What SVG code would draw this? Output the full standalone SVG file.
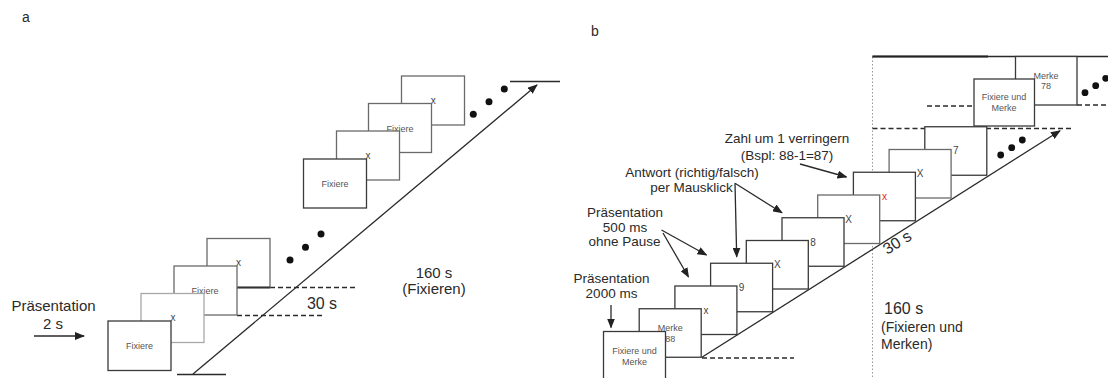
<svg xmlns="http://www.w3.org/2000/svg" width="1108" height="378" viewBox="0 0 1108 378">
<style>
.t{font-family:"Liberation Sans",Arial,sans-serif;fill:#2a2a2a}
.a15{font-size:15px}
.b14{font-size:13.5px}
.bx{fill:#fff;stroke-width:1.3}
.dk{stroke:#3a3a3a}
.md{stroke:#6a6a6a}
.lt{stroke:#a8a8a8}
.lbl{font-family:"Liberation Sans",Arial,sans-serif;font-size:9px;fill:#555;text-anchor:middle}
.xl{font-family:"Liberation Sans",Arial,sans-serif;font-size:10px;fill:#444;text-anchor:middle}
.ln{stroke:#2a2a2a;stroke-width:1.3;fill:none}
.dash{stroke:#2a2a2a;stroke-width:1.3;stroke-dasharray:5 3;fill:none}
.dot{fill:#111}
</style>
<defs>
<marker id="ah" markerUnits="userSpaceOnUse" markerWidth="10" markerHeight="8" refX="9" refY="4" orient="auto">
<path d="M0,0 L10,4 L0,8 z" fill="#222"/>
</marker>
</defs>
<rect width="1108" height="378" fill="#fff"/>

<!-- panel labels -->
<text class="t" x="22" y="22" font-size="14">a</text>
<text class="t" x="591" y="36" font-size="14">b</text>

<!-- ===== Panel a ===== -->
<g id="a-texts">
<text class="t a15" x="53.5" y="311" text-anchor="middle">Präsentation</text>
<text class="t a15" x="53" y="329" text-anchor="middle">2 s</text>
<text class="t a15" x="434" y="278" text-anchor="middle">160 s</text>
<text class="t a15" x="434" y="294" text-anchor="middle">(Fixieren)</text>
<text class="t" x="322" y="309" font-size="16" text-anchor="middle">30 s</text>
</g>

<g id="a-connectors">
<line class="ln" x1="34" y1="336" x2="84" y2="336" marker-end="url(#ah)"/>
<line class="ln" x1="193" y1="374" x2="537" y2="85" marker-end="url(#ah)"/>
<line class="ln" x1="177" y1="374.5" x2="226" y2="374.5"/>
<line class="ln" x1="510" y1="81.5" x2="560" y2="81.5"/>
<line class="dash" x1="270" y1="287.5" x2="358" y2="287.5"/>
<line class="dash" x1="237" y1="315.5" x2="325" y2="315.5"/>
</g>

<g id="a-dots">
<circle class="dot" cx="290" cy="260" r="3.5"/>
<circle class="dot" cx="305.5" cy="247.3" r="3.5"/>
<circle class="dot" cx="321" cy="234" r="3.5"/>
<circle class="dot" cx="473.3" cy="114.3" r="3.5"/>
<circle class="dot" cx="489" cy="101.7" r="3.5"/>
<circle class="dot" cx="504.3" cy="89" r="3.5"/>
</g>

<g id="a-box8"><rect class="bx md" x="401.5" y="76" width="63" height="49"/><text class="xl" x="433.3" y="104">x</text></g>
<g id="a-box7"><rect class="bx md" x="368.5" y="103.5" width="63" height="49"/><text class="lbl" x="400" y="131.5">Fixiere</text></g>
<g id="a-box6"><rect class="bx md" x="336.5" y="131" width="63" height="49"/><text class="xl" x="368" y="159">x</text></g>
<g id="a-box5"><rect class="bx dk" x="303.5" y="159" width="63" height="49"/><text class="lbl" x="335" y="187">Fixiere</text></g>

<g id="a-box4"><rect class="bx md" x="207" y="238.5" width="63" height="49"/><text class="xl" x="238.5" y="266">x</text>
<line x1="236" y1="287.5" x2="270" y2="287.5" stroke="#333" stroke-width="2"/></g>
<g id="a-box3"><rect class="bx md" x="174" y="266" width="63" height="49"/><text class="lbl" x="205" y="294">Fixiere</text></g>
<g id="a-box2"><rect class="bx lt" x="141" y="293.5" width="63" height="49"/><text class="xl" x="173" y="320.5">x</text></g>
<g id="a-box1"><rect class="bx dk" x="108" y="321" width="63" height="49.5"/><text class="lbl" x="139.5" y="348.5">Fixiere</text></g>

<!-- ===== Panel b ===== -->
<g id="b-guides">
<line x1="872.5" y1="57" x2="872.5" y2="378" stroke="#999" stroke-width="1" stroke-dasharray="1.5 2"/>
<line class="ln" x1="872.5" y1="56.5" x2="1108" y2="56.5"/>
<line x1="872.5" y1="56.5" x2="988" y2="56.5" stroke="#222" stroke-width="2"/>
<line class="dash" x1="872.5" y1="128.5" x2="926" y2="128.5"/>
<line class="dash" x1="986" y1="128.5" x2="1034" y2="128.5" stroke-width="2"/>
<line class="dash" x1="1034" y1="128.5" x2="1071" y2="128.5" stroke="#aaa"/>
<line class="dash" x1="927" y1="106" x2="974" y2="106"/>
<line class="dash" x1="1077" y1="105" x2="1108" y2="105"/>
<line class="dash" x1="702" y1="358" x2="794" y2="358"/>
</g>

<g id="b-texts">
<text class="t b14" x="787" y="143" text-anchor="middle">Zahl um 1 verringern</text>
<text class="t b14" x="787" y="159.5" text-anchor="middle">(Bspl: 88-1=87)</text>
<text class="t b14" x="692" y="176.5" text-anchor="middle">Antwort (richtig/falsch)</text>
<text class="t b14" x="691.5" y="191.5" text-anchor="middle">per Mausklick</text>
<text class="t b14" x="625" y="216.5" text-anchor="middle">Präsentation</text>
<text class="t b14" x="625" y="231.5" text-anchor="middle">500 ms</text>
<text class="t b14" x="624.5" y="245.5" text-anchor="middle">ohne Pause</text>
<text class="t b14" x="611.5" y="282.5" text-anchor="middle">Präsentation</text>
<text class="t b14" x="611.5" y="298" text-anchor="middle">2000 ms</text>
<text class="t" x="884" y="314" font-size="16">160 s</text>
<text class="t" x="881" y="331.5" font-size="14">(Fixieren und</text>
<text class="t" x="881" y="349" font-size="14">Merken)</text>
<text class="t" x="0" y="0" font-size="16" text-anchor="middle" transform="translate(900,247) rotate(-32.4)">30 s</text>
</g>

<g id="b-connectors">
<line class="ln" x1="701.5" y1="357.5" x2="1060" y2="130.7" marker-end="url(#ah)"/>
<line class="ln" x1="661.5" y1="230" x2="706.5" y2="255" marker-end="url(#ah)"/>
<line class="ln" x1="663" y1="233" x2="688.5" y2="277" marker-end="url(#ah)"/>
<line class="ln" x1="735" y1="183.3" x2="782" y2="212.7" marker-end="url(#ah)"/>
<line class="ln" x1="735" y1="183.3" x2="736.7" y2="256.7" marker-end="url(#ah)"/>
<line class="ln" x1="800" y1="164" x2="846.5" y2="177" marker-end="url(#ah)"/>
<line class="ln" x1="611" y1="305" x2="611" y2="327.5" marker-end="url(#ah)"/>
</g>

<g id="b-dots">
<circle class="dot" cx="1000.7" cy="155" r="3.4"/>
<circle class="dot" cx="1011.7" cy="147.7" r="3.4"/>
<circle class="dot" cx="1022.3" cy="140" r="3.4"/>
<circle class="dot" cx="1085" cy="92.7" r="3.4"/>
<circle class="dot" cx="1095.7" cy="85.7" r="3.4"/>
<circle class="dot" cx="1105.7" cy="78.3" r="3.4"/>
</g>

<g id="b-box12"><rect class="bx dk" x="1015.5" y="56.5" width="61.5" height="48.5"/>
<text class="lbl" x="1046" y="79">Merke</text><text class="lbl" x="1046" y="89">78</text></g>
<g id="b-box11"><rect class="bx dk" x="974" y="79" width="60.5" height="47"/>
<text class="lbl" x="1004" y="100">Fixiere und</text><text class="lbl" x="1004" y="111">Merke</text></g>

<g id="b-box10"><rect class="bx dk" x="924.8" y="126.75" width="62" height="48.5"/><text class="xl" x="955.8" y="154">7</text></g>
<g id="b-box9"><rect class="bx md" x="889.1" y="149.5" width="62" height="48.5"/><text class="xl" x="920.1" y="177">X</text></g>
<g id="b-box8"><rect class="bx dk" x="853.4" y="172.25" width="62" height="48.5"/><text class="xl" x="884.4" y="200" fill="#e02020" style="fill:#e02020">x</text></g>
<g id="b-box7"><rect class="bx md" x="817.7" y="195" width="62" height="48.5"/><text class="xl" x="848.7" y="222.5">X</text></g>
<g id="b-box6"><rect class="bx dk" x="782" y="217.75" width="62" height="48.5"/><text class="xl" x="813" y="245.5">8</text></g>
<g id="b-box5"><rect class="bx dk" x="746.3" y="240.5" width="62" height="48.5"/><text class="xl" x="777.3" y="268">X</text></g>
<g id="b-box4"><rect class="bx dk" x="710.6" y="263.25" width="62" height="48.5"/><text class="xl" x="741.6" y="291">9</text></g>
<g id="b-box3"><rect class="bx dk" x="674.9" y="286" width="62" height="48.5"/><text class="xl" x="705.9" y="313.5">x</text></g>
<g id="b-box2"><rect class="bx dk" x="639.2" y="308.75" width="62" height="48.5"/>
<text class="lbl" x="670.2" y="331">Merke</text><text class="lbl" x="670.2" y="342">88</text></g>
<g id="b-box1"><rect class="bx dk" x="603.5" y="331.5" width="62" height="50"/>
<text class="lbl" x="634.5" y="354">Fixiere und</text><text class="lbl" x="634.5" y="365">Merke</text></g>
</svg>
